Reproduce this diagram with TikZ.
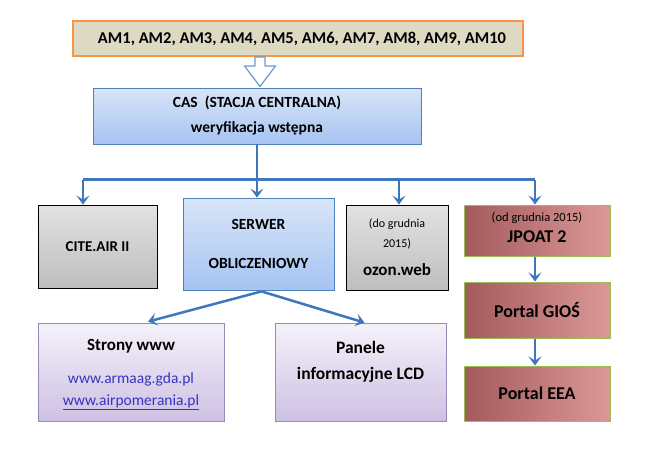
\documentclass[tikz,border=0pt]{standalone}
\usepackage{fontspec}
\setmainfont{Carlito}
\usetikzlibrary{arrows.meta,calc}
\definecolor{arrblue}{HTML}{3F77BC}
\definecolor{boxblue}{HTML}{4F81BD}
\definecolor{orangeb}{HTML}{F79646}
\definecolor{beige}{HTML}{DDD9C3}
\definecolor{bluetop}{HTML}{D8E5F8}
\definecolor{bluebot}{HTML}{A6C3F2}
\definecolor{greytop}{HTML}{E2E2E2}
\definecolor{greybot}{HTML}{BEBEBE}
\definecolor{purptop}{HTML}{F5F1FA}
\definecolor{purpbot}{HTML}{CDC1E2}
\definecolor{purpb}{HTML}{9A88B8}
\definecolor{redl}{HTML}{A35A5C}
\definecolor{redr}{HTML}{DC9897}
\definecolor{greenb}{HTML}{9BBB59}
\definecolor{urlblue}{HTML}{3535C0}
\definecolor{hollow}{HTML}{7199D0}
\tikzset{
  box/.style={draw, rectangle, inner sep=0pt, align=center, font=\bfseries},
  bluebox/.style={box, draw=boxblue, line width=0.8pt, top color=bluetop, bottom color=bluebot},
  greybox/.style={box, draw=black, line width=0.9pt, top color=greytop, bottom color=greybot},
  purpbox/.style={box, draw=purpb, line width=0.8pt, top color=purptop, bottom color=purpbot},
  redbox/.style={box, draw=greenb, line width=1pt, left color=redl, right color=redr},
  arr/.style={draw=arrblue, line width=2.5pt, -{Stealth[length=9pt,width=13pt,inset=4pt]}},
  conn/.style={draw=arrblue, line width=2.5pt},
}
\begin{document}
\begin{tikzpicture}[x=1pt,y=-1pt]
\useasboundingbox (0,0) rectangle (648,456);
\fill[white] (0,0) rectangle (648,456);

\node[box, draw=orangeb, line width=2pt, fill=beige, minimum width=450pt, minimum height=35pt,
      font=\bfseries\fontsize{16.5}{20}\selectfont] (AM) at (298,38.5)
  {\hspace*{8pt}AM1, AM2, AM3, AM4, AM5, AM6, AM7, AM8, AM9, AM10};

\node[bluebox, minimum width=328pt, minimum height=56pt,
      font=\bfseries\fontsize{15.5}{25}\selectfont] (CAS) at (257,116)
  {CAS\ \ (STACJA CENTRALNA)\\weryfikacja wstępna};

% hollow block arrow
\draw[draw=hollow, line width=1.2pt, fill=white, line join=miter]
  (255,57) -- (265,57) -- (265,66) -- (275.5,66) -- (260,86.5) -- (244.5,66) -- (255,66) -- cycle;

\node[greybox, minimum width=119pt, minimum height=83pt,
      font=\bfseries\fontsize{15}{18}\selectfont] (CITE) at (97.5,246.5) {CITE.AIR II};

\node[bluebox, minimum width=151pt, minimum height=92pt, text depth=-4pt,
      font=\bfseries\fontsize{15.5}{39}\selectfont] (SERWER) at (258.5,244) {SERWER\\OBLICZENIOWY};

\node[greybox, minimum width=102pt, minimum height=85pt,
      font=\fontsize{12}{20}\selectfont] (OZON) at (397,247.5)
  {(do grudnia\\2015)\\[8pt]{\bfseries\fontsize{17}{20}\selectfont ozon.web}};

\node[redbox, minimum width=146pt, minimum height=51pt, text depth=7pt,
      font=\fontsize{12.5}{21}\selectfont] (JPOAT) at (537,230.5)
  {(od grudnia 2015)\\{\bfseries\fontsize{18}{21}\selectfont JPOAT 2}};

\node[redbox, minimum width=146pt, minimum height=56pt,
      font=\bfseries\fontsize{18}{21}\selectfont] (GIOS) at (537,310) {Portal GIOŚ};

\node[redbox, minimum width=146pt, minimum height=55pt,
      font=\bfseries\fontsize{18}{21}\selectfont] (EEA) at (537,393.5) {Portal EEA};

\node[purpbox, minimum width=186pt, minimum height=98pt, text depth=-2pt,
      font=\fontsize{15.5}{22}\selectfont] (STRONY) at (131,372)
  {{\bfseries\fontsize{17}{22}\selectfont Strony www}\\[11pt]
   \textcolor{urlblue}{www.armaag.gda.pl}\\
   \textcolor{urlblue}{\underline{www.airpomerania.pl}}};

\node[purpbox, minimum width=171pt, minimum height=98pt, text depth=24pt,
      font=\bfseries\fontsize{17.5}{26}\selectfont] (PANELE) at (360.5,372)
  {Panele\\informacyjne LCD};

% connectors
\coordinate (busL) at (83,179.5);
\coordinate (busR) at (535,179.5);
\draw[conn] (busL) -- (busR);
\draw[conn] (CAS.south) -- (CAS.south |- busL);
\draw[arr] (busL) -- (busL |- CITE.north);
\draw[arr] (CAS.south |- busL) -- (CAS.south |- SERWER.north);
\draw[arr] (busL -| 399,0) -- (OZON.north -| 399,0);
\draw[arr] (busR) -- (busR |- JPOAT.north);
\draw[arr] (JPOAT.south -| busR) -- (GIOS.north -| busR);
\draw[arr] (GIOS.south -| busR) -- (EEA.north -| busR);
\draw[arr] ($(SERWER.south)+(3,1)$) -- ($(STRONY.north)+(17,-1)$);
\draw[arr] ($(SERWER.south)+(3,1)$) -- ($(PANELE.north)+(4,0)$);
\end{tikzpicture}
\end{document}
